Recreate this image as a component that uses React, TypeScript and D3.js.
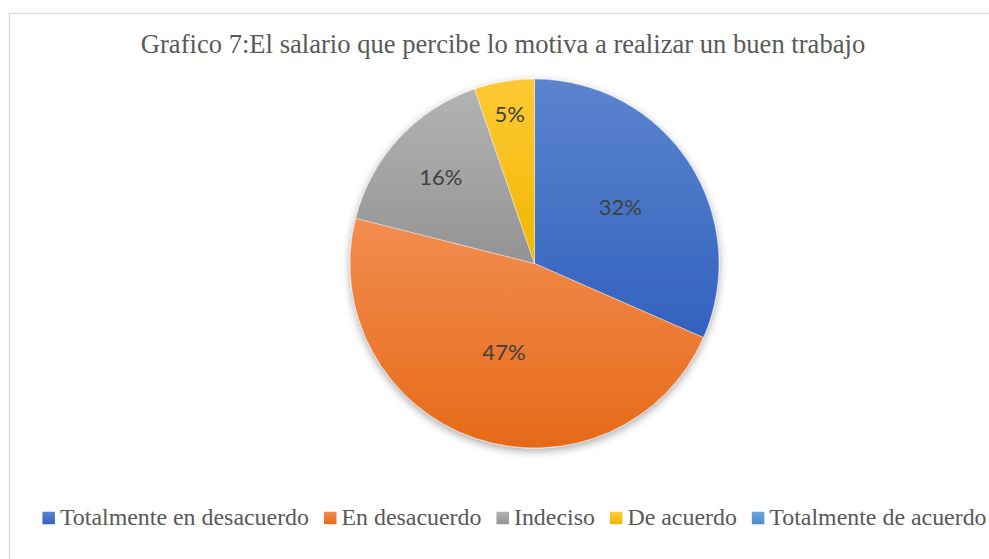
import * as d3 from "d3";
import { useEffect, useRef } from "react";

const title = "Grafico 7:El salario que percibe lo motiva a realizar un buen trabajo";
const categories = [
  "Totalmente en desacuerdo",
  "En desacuerdo",
  "Indeciso",
  "De acuerdo",
  "Totalmente de acuerdo",
];
// respuestas (19 en total) -> 32%, 47%, 16%, 5%, 0%
const counts = [6, 9, 3, 1, 0];

// Office palette, light top / dark bottom of each gradient
const colorsTop = ["#5b84ce", "#f28d50", "#b3b3b3", "#ffc935", "#6aa5dc"];
const colorsBottom = ["#3262bf", "#e66a18", "#939393", "#efb700", "#4b8ccc"];
// how far out (fraction of radius) Excel put each data label
const labelFrac = [0.555, 0.51, 0.69, 0.82, 0.5];

const W = 989;
const H = 559;

export default function App() {
  const ref = useRef<SVGSVGElement | null>(null);

  useEffect(() => {
    document.body.style.margin = "0";
    const svg = d3.select(ref.current);
    svg.selectAll("*").remove();

    const cx = 534.5;
    const cy = 263.5;
    const r = 184.5;

    const defs = svg.append("defs");
    categories.forEach((_, i) => {
      const g = defs
        .append("linearGradient")
        .attr("id", `grad${i}`)
        .attr("x1", 0)
        .attr("y1", 0)
        .attr("x2", 0)
        .attr("y2", 1);
      g.append("stop").attr("offset", "0%").attr("stop-color", colorsTop[i]);
      g.append("stop").attr("offset", "100%").attr("stop-color", colorsBottom[i]);
    });
    const f = defs
      .append("filter")
      .attr("id", "shadow")
      .attr("x", "-10%")
      .attr("y", "-10%")
      .attr("width", "120%")
      .attr("height", "125%");
    f.append("feDropShadow")
      .attr("dx", 0)
      .attr("dy", 3)
      .attr("stdDeviation", 4)
      .attr("flood-color", "#000")
      .attr("flood-opacity", 0.35);

    // chart frame (runs off the right and bottom edges)
    svg
      .append("rect")
      .attr("x", 9.5)
      .attr("y", 13.5)
      .attr("width", 1000)
      .attr("height", 600)
      .attr("fill", "#fff")
      .attr("stroke", "#d9d9d9")
      .attr("stroke-width", 1.3);

    svg
      .append("text")
      .attr("x", 503)
      .attr("y", 53)
      .attr("text-anchor", "middle")
      .attr("font-family", "'Liberation Serif', 'Times New Roman', serif")
      .attr("font-size", 26.6)
      .attr("fill", "#595959")
      .text(title);

    const total = d3.sum(counts);
    const pie = d3.pie<number>().sort(null).value((d) => d);
    const arcs = pie(counts);
    const arc = d3.arc<d3.PieArcDatum<number>>().innerRadius(0).outerRadius(r);

    const g = svg.append("g").attr("transform", `translate(${cx},${cy})`);
    const slices = g.append("g").attr("filter", "url(#shadow)");
    slices
      .selectAll("path")
      .data(arcs.filter((a) => a.value > 0))
      .join("path")
      .attr("d", arc)
      .attr("fill", (d) => `url(#grad${d.index})`)
      .attr("stroke", "#fff")
      .attr("stroke-width", 0.4);

    g.append("g")
      .selectAll("text")
      .data(arcs.filter((a) => a.value > 0))
      .join("text")
      .attr("transform", (d) => {
        const lr = r * labelFrac[d.index];
        const c = d3.arc<d3.PieArcDatum<number>>().innerRadius(lr).outerRadius(lr).centroid(d);
        return `translate(${c[0]},${c[1]})`;
      })
      .attr("text-anchor", "middle")
      .attr("dy", "0.36em")
      .attr("font-family", "Lato, 'Open Sans', sans-serif")
      .attr("font-size", 22)
      .attr("fill", "#404040")
      .text((d) => `${Math.round((d.value / total) * 100)}%`);

    // legend, laid out by measured text widths
    const fs = 23.9;
    const sq = 12.5;
    const legend = svg.append("g");
    const items = categories.map((c, i) => {
      const it = legend.append("g");
      it.append("rect")
        .attr("width", sq)
        .attr("height", sq)
        .attr("y", -sq / 2 - 7)
        .attr("fill", `url(#grad${i})`);
      const t = it
        .append("text")
        .attr("x", sq + 5)
        .attr("font-family", "'Liberation Serif', 'Times New Roman', serif")
        .attr("font-size", fs)
        .attr("fill", "#595959")
        .text(c);
      const w = (t.node() as SVGTextElement).getComputedTextLength();
      return { it, w: sq + 5 + w };
    });
    const gap = 15;
    const totalW = d3.sum(items, (d) => d.w) + gap * (items.length - 1);
    let x = 514.5 - totalW / 2;
    items.forEach((d) => {
      d.it.attr("transform", `translate(${x},525)`);
      x += d.w + gap;
    });
  }, []);

  return <svg ref={ref} width={W} height={H} style={{ display: "block", background: "#fff" }} />;
}
